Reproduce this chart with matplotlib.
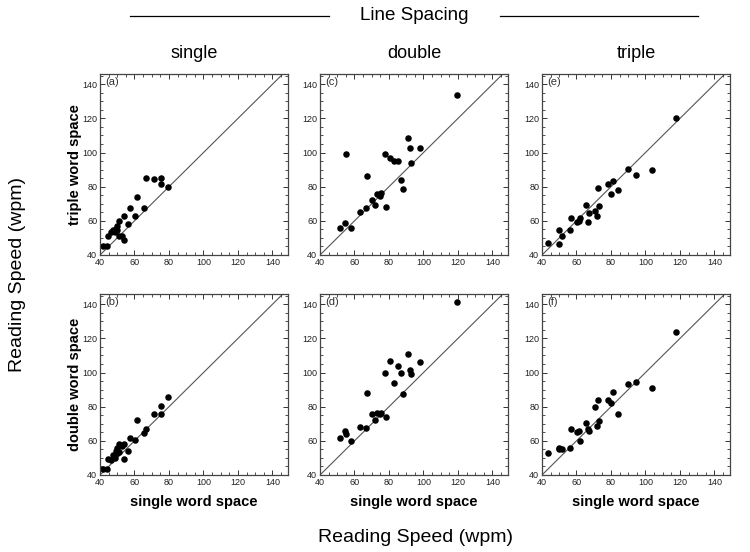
import matplotlib.pyplot as plt
from matplotlib.lines import Line2D
from matplotlib.ticker import MultipleLocator

plt.rcParams['font.family'] = ['Liberation Sans', 'DejaVu Sans']

# x values: single word space (same readers in each column)
x_single = [41.5, 43.9, 44.8, 46.4, 47.7, 48.7, 49.3, 50.0, 49.7, 51.2, 52.5, 54.1,
            51.0, 54.1, 56.4, 57.4, 60.3, 61.2, 65.7, 66.6, 71.3, 75.5, 75.1, 79.2]
x_double = [51.7, 54.4, 54.8, 57.9, 63.3, 66.5, 67.2, 69.9, 71.8, 72.8, 74.6, 75.4,
            78.1, 77.4, 80.5, 82.8, 85.0, 86.9, 87.9, 90.8, 92.0, 92.6, 98.2, 119.2]
x_triple = [43.3, 49.8, 49.8, 51.7, 56.0, 57.0, 60.3, 61.3, 61.9, 65.8, 66.4, 67.3,
            70.7, 71.6, 72.4, 73.0, 78.5, 80.0, 81.0, 83.8, 89.8, 94.5, 103.5, 117.5]

# y values: triple word space (top row)
y_a = [45.2, 45.2, 51.3, 53.6, 54.6, 53.6, 55.5, 54.6, 57.0, 51.3, 51.0, 49.0,
       60.2, 62.9, 58.0, 67.8, 62.9, 73.8, 67.8, 84.9, 84.3, 85.2, 81.7, 79.8]
y_c = [55.7, 59.0, 99.0, 55.7, 65.1, 67.3, 86.3, 72.0, 69.0, 75.9, 74.3, 76.3,
       68.4, 99.4, 96.7, 95.1, 95.1, 84.1, 78.6, 108.4, 102.5, 94.1, 102.9, 133.5]
y_e = [47.3, 54.7, 46.3, 51.0, 54.9, 61.4, 59.4, 60.0, 61.6, 69.1, 59.4, 64.4,
       66.0, 62.8, 79.1, 68.5, 81.8, 75.6, 83.6, 78.1, 90.3, 86.8, 89.7, 120.5]

# y values: double word space (bottom row)
y_b = [43.5, 43.7, 49.4, 48.6, 52.0, 50.0, 54.0, 56.0, 53.0, 58.0, 57.0, 49.5,
       53.5, 58.0, 54.0, 61.8, 60.4, 72.0, 64.7, 66.7, 75.7, 80.2, 76.0, 85.5]
y_d = [61.4, 65.5, 64.0, 60.2, 68.4, 67.6, 87.8, 75.7, 72.5, 76.6, 75.9, 76.6,
       73.7, 99.6, 106.7, 93.9, 103.8, 99.6, 87.6, 110.6, 101.6, 99.4, 106.1, 141.2]
y_f = [52.7, 55.7, 55.3, 55.1, 55.7, 67.1, 64.9, 65.5, 60.2, 70.6, 66.9, 65.9,
       79.8, 68.6, 84.1, 71.4, 84.1, 82.2, 88.6, 75.7, 93.5, 94.3, 91.0, 123.7]

col_titles = ['single', 'double', 'triple']
row_labels = ['triple word space', 'double word space']
panel_tags = [['(a)', '(c)', '(e)'], ['(b)', '(d)', '(f)']]
xs = [x_single, x_double, x_triple]
ys = [[y_a, y_c, y_e], [y_b, y_d, y_f]]

W, H = 750, 552
fig = plt.figure(figsize=(W / 100, H / 100), dpi=100)

lefts = [100, 320, 542]
tops = [74, 294]
pw, ph = 188, 181

for r in range(2):
    for c in range(3):
        ax = fig.add_axes([lefts[c] / W, 1 - (tops[r] + ph) / H, pw / W, ph / H])
        ax.plot([40, 150], [40, 150], color='#555555', lw=0.8, zorder=1)
        ax.scatter(xs[c], ys[r][c], s=22, color='black', zorder=2, linewidths=0)
        ax.set_xlim(40, 149)
        ax.set_ylim(40, 146)
        ax.xaxis.set_major_locator(MultipleLocator(20))
        ax.yaxis.set_major_locator(MultipleLocator(20))
        ax.xaxis.set_minor_locator(MultipleLocator(5))
        ax.yaxis.set_minor_locator(MultipleLocator(5))
        ax.tick_params(which='both', direction='in', top=True, right=True,
                       labelsize=6.5, pad=2, color='#333333', labelcolor='#222222')
        ax.tick_params(which='major', length=3.5, width=0.7)
        ax.tick_params(which='minor', length=2, width=0.6)
        for sp in ax.spines.values():
            sp.set_color('#444444')
            sp.set_linewidth(0.9)
        ax.text(0.03, 0.985, panel_tags[r][c], transform=ax.transAxes,
                ha='left', va='top', fontsize=8, color='#333333')

# column titles and x labels
for c in range(3):
    fig.text((lefts[c] + pw / 2) / W, 1 - 53 / H, col_titles[c],
             ha='center', va='center', fontsize=13)
    fig.text((lefts[c] + pw / 2) / W, 1 - 502 / H, 'single word space',
             ha='center', va='center', fontsize=10.5, fontweight='bold')

# row labels
for r in range(2):
    fig.text(75 / W, 1 - (tops[r] + ph / 2) / H, row_labels[r], rotation=90,
             ha='center', va='center', fontsize=10.5, fontweight='bold')

# header with lines
fig.text(414 / W, 1 - 15 / H, 'Line Spacing', ha='center', va='center', fontsize=13.5)
fig.add_artist(Line2D([130 / W, 329 / W], [1 - 16 / H, 1 - 16 / H], color='black', lw=0.9))
fig.add_artist(Line2D([500 / W, 698 / W], [1 - 16 / H, 1 - 16 / H], color='black', lw=0.9))

# shared axis labels
fig.text(415 / W, 1 - 538 / H, 'Reading Speed (wpm)', ha='center', va='center', fontsize=14)
fig.text(18 / W, 1 - 275 / H, 'Reading Speed (wpm)', rotation=90,
         ha='center', va='center', fontsize=14)

fig.savefig('out.png', dpi=100)
